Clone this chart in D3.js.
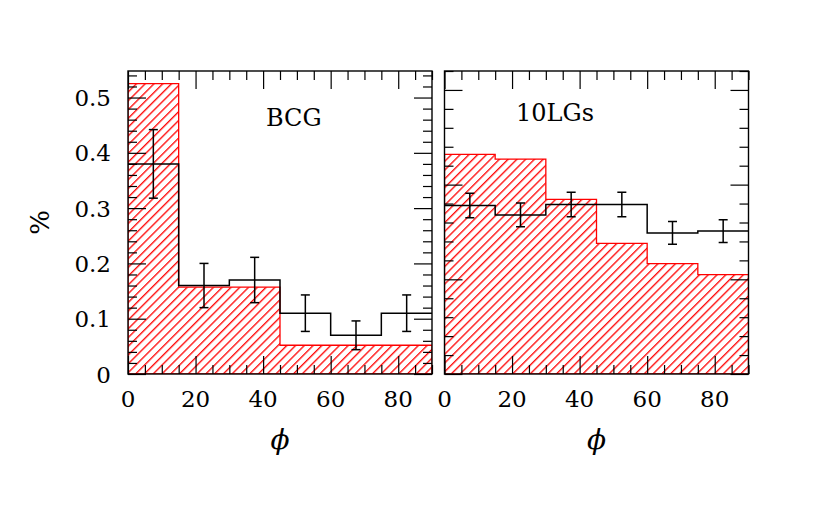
<!DOCTYPE html>
<meta charset="utf-8">
<style>
body { margin: 0; background: #fff; }
text { font-family: "DejaVu Serif", serif; fill: #000; }
</style>
<body>
<script src="https://d3js.org/d3.v7.min.js"></script>
<script>
// bin edges in phi (degrees)
var binEdges = [0, 15, 30, 45, 60, 75, 90];

// BCG panel
var bcgObs = [0.38, 0.16, 0.17, 0.11, 0.07, 0.11];
var bcgErr = [0.062, 0.04, 0.041, 0.033, 0.026, 0.033];
var bcgModel = [0.525, 0.157, 0.157, 0.052, 0.052, 0.052];

// 10LGs panel
var lgObs = [0.178, 0.168, 0.179, 0.179, 0.149, 0.151];
var lgErr = [0.013, 0.0125, 0.013, 0.013, 0.012, 0.012];
var lgModel = [0.232, 0.227, 0.1845, 0.138, 0.1165, 0.105];

var xMajor = [0, 20, 40, 60, 80];
var yMajorLeft = [0, 0.1, 0.2, 0.3, 0.4, 0.5];
var yMajorRight = [0, 0.1, 0.2, 0.3];

var W = 830, H = 512;
var yTop = 71, yBot = 374;

var svg = d3.select("body").append("svg")
    .attr("width", W)
    .attr("height", H);

var defs = svg.append("defs");
defs.append("pattern")
    .attr("id", "hatch")
    .attr("patternUnits", "userSpaceOnUse")
    .attr("width", 6.2)
    .attr("height", 6.2)
    .attr("patternTransform", "rotate(45)")
  .append("line")
    .attr("x1", 0.7).attr("y1", 0)
    .attr("x2", 0.7).attr("y2", 6.2)
    .attr("stroke", "#ff0000")
    .attr("stroke-width", 1.3);

function range(a, b, s) {
  var out = [];
  for (var v = a; v <= b + 1e-9; v += s) out.push(+v.toFixed(4));
  return out;
}

function panel(opts) {
  var x = d3.scaleLinear().domain([0, 90]).range([opts.left, opts.right]);
  var y = d3.scaleLinear().domain([0, opts.ymax]).range([yBot, yTop]);
  var g = svg.append("g");

  var cid = "clip" + opts.id;
  defs.append("clipPath").attr("id", cid)
    .append("rect")
      .attr("x", opts.left).attr("y", yTop)
      .attr("width", opts.right - opts.left).attr("height", yBot - yTop);

  var plot = g.append("g").attr("clip-path", "url(#" + cid + ")");

  // model histogram (hatched)
  var pts = [[binEdges[0], 0]];
  opts.model.forEach(function(v, i) {
    pts.push([binEdges[i], v]);
    pts.push([binEdges[i + 1], v]);
  });
  pts.push([binEdges[binEdges.length - 1], 0]);
  plot.append("path")
    .attr("d", d3.line().x(function(d) { return x(d[0]); }).y(function(d) { return y(d[1]); })(pts) + "Z")
    .attr("fill", "url(#hatch)")
    .attr("stroke", "#ff0000")
    .attr("stroke-width", 1.3);

  // observed histogram
  var obs = [];
  opts.obs.forEach(function(v, i) {
    obs.push([binEdges[i], v]);
    obs.push([binEdges[i + 1], v]);
  });
  plot.append("path")
    .attr("d", d3.line().x(function(d) { return x(d[0]); }).y(function(d) { return y(d[1]); })(obs))
    .attr("fill", "none")
    .attr("stroke", "#000")
    .attr("stroke-width", 1.5);

  // error bars
  var eb = plot.selectAll(".eb").data(opts.obs).enter().append("g");
  eb.append("line")
    .attr("x1", function(d, i) { return x((binEdges[i] + binEdges[i + 1]) / 2); })
    .attr("x2", function(d, i) { return x((binEdges[i] + binEdges[i + 1]) / 2); })
    .attr("y1", function(d, i) { return y(d - opts.err[i]); })
    .attr("y2", function(d, i) { return y(d + opts.err[i]); });
  [-1, 1].forEach(function(s) {
    eb.append("line")
      .attr("x1", function(d, i) { return x((binEdges[i] + binEdges[i + 1]) / 2) - 4.5; })
      .attr("x2", function(d, i) { return x((binEdges[i] + binEdges[i + 1]) / 2) + 4.5; })
      .attr("y1", function(d, i) { return y(d + s * opts.err[i]); })
      .attr("y2", function(d, i) { return y(d + s * opts.err[i]); });
  });
  eb.selectAll("line").attr("stroke", "#000").attr("stroke-width", 1.5);

  // ticks, all four sides, inside
  var xMinor = range(0, 90, 5).filter(function(v) { return v % 20 !== 0; });
  var yMinor = range(0, opts.ymax, 0.02).filter(function(v) { return opts.yMajor.indexOf(v) < 0; });

  function axisPair(make, scale, major, minor, tx, len) {
    g.append("g").attr("class", "tk").attr("transform", tx)
      .call(make(scale).tickValues(major).tickSize(-len * 2).tickFormat(""));
    g.append("g").attr("class", "tk").attr("transform", tx)
      .call(make(scale).tickValues(minor).tickSize(-len).tickFormat(""));
  }
  axisPair(d3.axisBottom, x, xMajor, xMinor, "translate(0," + yBot + ")", 9);
  axisPair(d3.axisTop, x, xMajor, xMinor, "translate(0," + yTop + ")", 9);
  axisPair(d3.axisLeft, y, opts.yMajor, yMinor, "translate(" + opts.left + ",0)", 9);
  axisPair(d3.axisRight, y, opts.yMajor, yMinor, "translate(" + opts.right + ",0)", 9);
  g.selectAll(".tk .domain").remove();
  g.selectAll(".tk line").attr("stroke", "#000").attr("stroke-width", 1.2);

  // frame
  g.append("rect")
    .attr("x", opts.left).attr("y", yTop)
    .attr("width", opts.right - opts.left).attr("height", yBot - yTop)
    .attr("fill", "none").attr("stroke", "#000").attr("stroke-width", 1.4);

  // x tick labels
  g.selectAll(".xl").data(xMajor).enter().append("text")
    .attr("x", function(d) { return x(d); })
    .attr("y", 407)
    .attr("text-anchor", "middle")
    .attr("font-size", "23px")
    .text(function(d) { return d; });

  if (opts.yLabels) {
    g.selectAll(".yl").data(opts.yMajor).enter().append("text")
      .attr("x", opts.left - 17)
      .attr("y", function(d) { return y(d) + 8.5; })
      .attr("text-anchor", "end")
      .attr("font-size", "23px")
      .text(function(d) { return d === 0 ? "0" : d3.format(".1f")(d); });
  }

  // x axis title
  g.append("text")
    .attr("x", (opts.left + opts.right) / 2)
    .attr("y", 449)
    .attr("text-anchor", "middle")
    .attr("font-size", "28px")
    .attr("font-style", "italic")
    .text("\u03D5");

  // panel label
  g.append("text")
    .attr("x", opts.labelX)
    .attr("y", opts.labelY)
    .attr("font-size", "24px")
    .text(opts.label);
}

panel({ id: 1, left: 128, right: 432, ymax: 0.548, yMajor: yMajorLeft, yLabels: true,
        obs: bcgObs, err: bcgErr, model: bcgModel, label: "BCG", labelX: 266, labelY: 126 });
panel({ id: 2, left: 444.5, right: 748.5, ymax: 0.32, yMajor: yMajorRight, yLabels: false,
        obs: lgObs, err: lgErr, model: lgModel, label: "10LGs", labelX: 516, labelY: 120.5 });

// y axis title
svg.append("text")
    .attr("transform", "translate(49,222.5) rotate(-90)")
    .attr("text-anchor", "middle")
    .attr("font-size", "26px")
    .text("%");
</script>
